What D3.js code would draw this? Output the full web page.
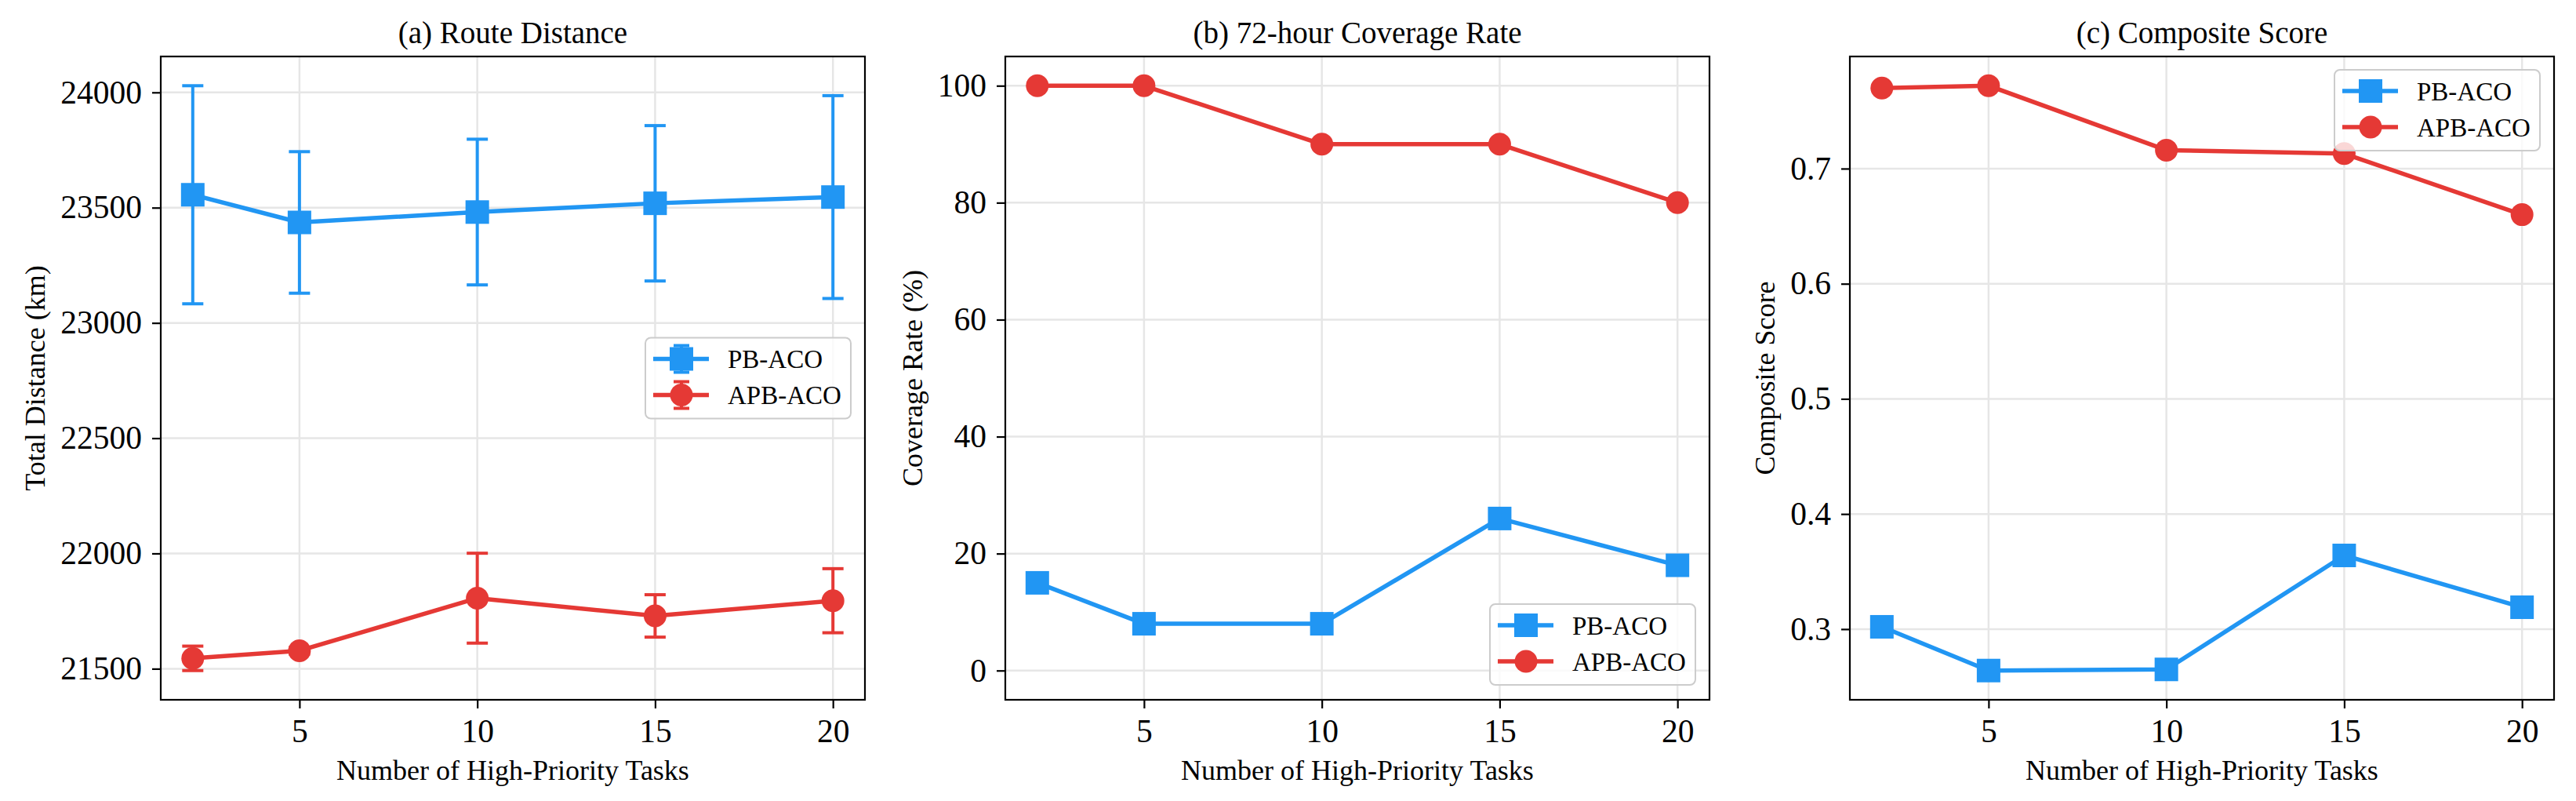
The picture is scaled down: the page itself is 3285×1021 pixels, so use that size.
<!DOCTYPE html>
<html>
<head>
<meta charset="utf-8">
<script src="https://cdn.jsdelivr.net/npm/d3@7"></script>
<style>
  html, body { margin: 0; padding: 0; background: #fff; }
  svg { display: block; }
  text { font-family: "Liberation Serif", "Times New Roman", "DejaVu Serif", serif; fill: #000; }
</style>
</head>
<body>
<svg id="chart"></svg>
<script>
// number of high-priority tasks (x values of every panel)
const xTasks = [2, 5, 10, 15, 20]
const xTicks = [5, 10, 15, 20]
const seriesNames = ['PB-ACO', 'APB-ACO']

// (a) route distance, mean and error
const pbDistance     = [23556, 23436, 23481, 23519, 23546]
const pbDistanceErr  = [473, 307, 316, 337, 440]
const apbDistance    = [21545, 21578, 21806, 21729, 21795]
const apbDistanceErr = [53, 15, 195, 92, 139]
const distanceTicks  = [21500, 22000, 22500, 23000, 23500, 24000]

// (b) 72-hour coverage rate (%)
const pbCoverage    = [15, 8, 8, 26, 18]
const apbCoverage   = [100, 100, 90, 90, 80]
const coverageTicks = [0, 20, 40, 60, 80, 100]

// (c) composite score
const pbScore    = [0.302, 0.264, 0.265, 0.364, 0.319]
const apbScore   = [0.770, 0.772, 0.716, 0.713, 0.660]
const scoreTicks = [0.3, 0.4, 0.5, 0.6, 0.7]

const W = 3285, H = 1021
const BLUE = '#2196F3', RED = '#E53935'
const colors = [BLUE, RED]
const shapes = ['square', 'circle']

const svg = d3.select('#chart').attr('width', W).attr('height', H)

const axTop = 72, axBottom = 892, panelW = 898
const lefts = [205, 1282, 2359]

// matplotlib style 5% margin
const pad = (lo, hi) => { const m = (hi - lo) * 0.05; return [lo - m, hi + m] }

const zip = (xs, ys, es) => xs.map((x, i) => ({ x: x, y: ys[i], e: es ? es[i] : 0 }))

const panels = [
  { title: '(a) Route Distance', ylabel: 'Total Distance (km)',
    series: [zip(xTasks, pbDistance, pbDistanceErr), zip(xTasks, apbDistance, apbDistanceErr)],
    yticks: distanceTicks, fmt: d3.format('d'), errors: true, legend: 'center' },
  { title: '(b) 72-hour Coverage Rate', ylabel: 'Coverage Rate (%)',
    series: [zip(xTasks, pbCoverage), zip(xTasks, apbCoverage)],
    yticks: coverageTicks, fmt: d3.format('d'), domain: [-5, 105], legend: 'lower' },
  { title: '(c) Composite Score', ylabel: 'Composite Score',
    series: [zip(xTasks, pbScore), zip(xTasks, apbScore)],
    yticks: scoreTicks, fmt: d3.format('.1f'), legend: 'upper' }
]

function drawMarker(g, shape, cx, cy, color) {
  if (shape === 'square') {
    g.append('rect').attr('x', cx - 15).attr('y', cy - 15)
      .attr('width', 30).attr('height', 30).attr('fill', color)
  } else {
    g.append('circle').attr('cx', cx).attr('cy', cy).attr('r', 14.5).attr('fill', color)
  }
}

function drawErrorBar(g, cx, y1, y2, color, half) {
  g.append('line').attr('x1', cx).attr('x2', cx).attr('y1', y1).attr('y2', y2)
    .attr('stroke', color).attr('stroke-width', 4)
  ;[y1, y2].forEach(yy => g.append('line')
    .attr('x1', cx - half).attr('x2', cx + half).attr('y1', yy).attr('y2', yy)
    .attr('stroke', color).attr('stroke-width', 4))
}

panels.forEach((p, pi) => {
  const left = lefts[pi], right = left + panelW
  const g = svg.append('g')

  const x = d3.scaleLinear().domain(pad(2, 20)).range([left, right])
  let dom = p.domain
  if (!dom) {
    const all = p.series.flat()
    dom = pad(d3.min(all, d => d.y - d.e), d3.max(all, d => d.y + d.e))
  }
  const y = d3.scaleLinear().domain(dom).range([axBottom, axTop])

  // grid
  const grid = g.append('g').attr('stroke', '#e6e6e6').attr('stroke-width', 2.5)
  xTicks.forEach(t => grid.append('line').attr('x1', x(t)).attr('x2', x(t)).attr('y1', axTop).attr('y2', axBottom))
  p.yticks.forEach(t => grid.append('line').attr('x1', left).attr('x2', right).attr('y1', y(t)).attr('y2', y(t)))

  // axes
  const xAxis = g.append('g').attr('transform', 'translate(0,' + axBottom + ')')
    .call(d3.axisBottom(x).tickValues(xTicks).tickSize(11).tickPadding(13).tickFormat(d3.format('d')))
  const yAxis = g.append('g').attr('transform', 'translate(' + left + ',0)')
    .call(d3.axisLeft(y).tickValues(p.yticks).tickSize(11).tickPadding(13).tickFormat(p.fmt))
  ;[xAxis, yAxis].forEach(a => {
    a.select('.domain').remove()
    a.selectAll('line').attr('stroke', '#000').attr('stroke-width', 2.2)
    a.selectAll('text').attr('font-size', 41.5).style('font-family', '"Liberation Serif", serif')
  })
  xAxis.selectAll('text').attr('dy', '0.72em')

  // lines, error bars, markers
  const line = d3.line().x(d => x(d.x)).y(d => y(d.y))
  p.series.forEach((s, si) => {
    const sg = g.append('g')
    sg.append('path').datum(s).attr('d', line).attr('fill', 'none')
      .attr('stroke', colors[si]).attr('stroke-width', 5.5).attr('stroke-linejoin', 'round')
    if (p.errors) {
      s.forEach(d => drawErrorBar(sg, x(d.x), y(d.y + d.e), y(d.y - d.e), colors[si], 13.5))
    }
    s.forEach(d => drawMarker(sg, shapes[si], x(d.x), y(d.y), colors[si]))
  })

  // frame
  g.append('rect').attr('x', left).attr('y', axTop).attr('width', panelW).attr('height', axBottom - axTop)
    .attr('fill', 'none').attr('stroke', '#000').attr('stroke-width', 2.2)

  // titles and labels
  g.append('text').attr('x', (left + right) / 2).attr('y', 55)
    .attr('text-anchor', 'middle').attr('font-size', 39).text(p.title)
  g.append('text').attr('x', (left + right) / 2).attr('y', 994)
    .attr('text-anchor', 'middle').attr('font-size', 36).text('Number of High-Priority Tasks')
  const bb = yAxis.node().getBBox()
  const lx = left + bb.x - 20, ly = (axTop + axBottom) / 2
  g.append('text').attr('transform', 'translate(' + lx + ',' + ly + ') rotate(-90)')
    .attr('text-anchor', 'middle').attr('font-size', 36).text(p.ylabel)

  // legend
  const lw = 262, lh = 103
  const lxr = right - 18 - lw
  let lyt
  if (p.legend === 'center') lyt = (axTop + axBottom) / 2 - lh / 2
  else if (p.legend === 'lower') lyt = axBottom - 19 - lh
  else lyt = axTop + 17
  const lg = g.append('g').attr('transform', 'translate(' + lxr + ',' + lyt + ')')
  lg.append('rect').attr('width', lw).attr('height', lh).attr('rx', 7)
    .attr('fill', 'rgba(255,255,255,0.8)').attr('stroke', '#cccccc').attr('stroke-width', 2)
  seriesNames.forEach((name, si) => {
    const ry = 27 + si * 46
    lg.append('line').attr('x1', 10).attr('x2', 81).attr('y1', ry).attr('y2', ry)
      .attr('stroke', colors[si]).attr('stroke-width', 5.5)
    if (p.errors) drawErrorBar(lg, 46, ry - 17, ry + 17, colors[si], 10)
    drawMarker(lg, shapes[si], 46, ry, colors[si])
    lg.append('text').attr('x', 105).attr('y', ry).attr('dy', '0.35em')
      .attr('font-size', 33).text(name)
  })
})
</script>
</body>
</html>
